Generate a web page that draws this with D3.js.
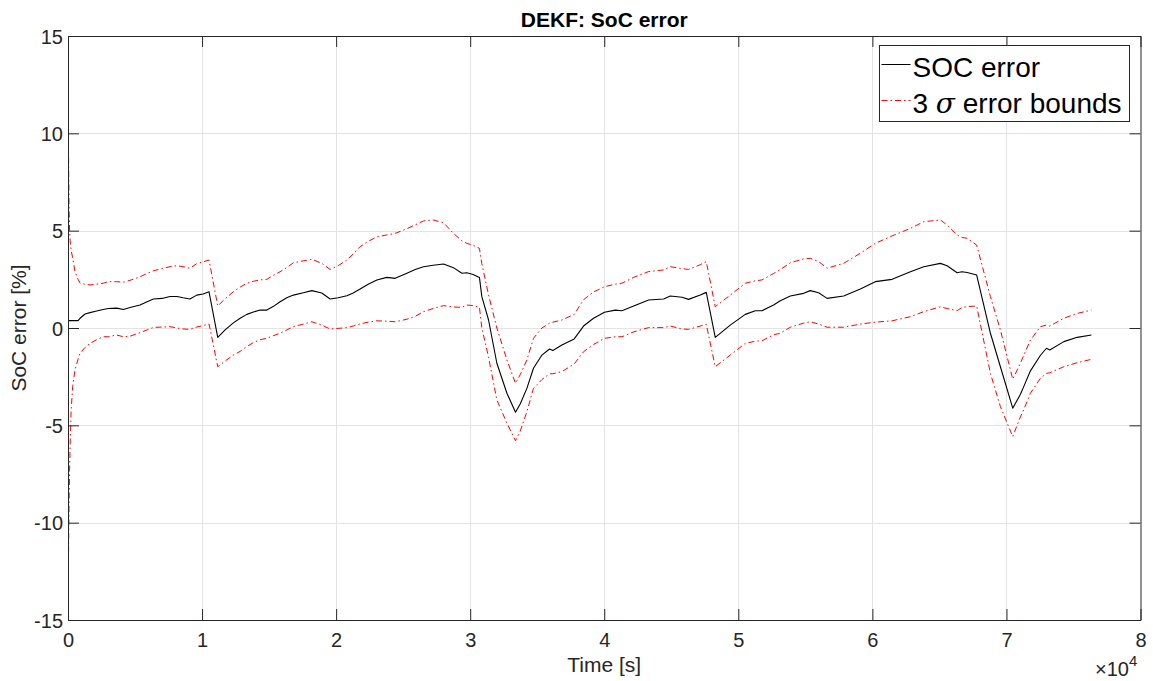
<!DOCTYPE html>
<html>
<head>
<meta charset="utf-8">
<script src="https://cdn.jsdelivr.net/npm/d3@7"></script>
<style>
  body { margin: 0; background: #fff; }
  svg { display: block; font-family: "Liberation Sans", Arial, Helvetica, sans-serif; }
</style>
</head>
<body>
<div id="chart"></div>
<script>
// time [s]
var time = [0, 40, 80, 120, 160, 230, 350, 520, 750, 900, 1270, 1640, 2140, 2630, 3000, 3630,
  4130, 4630, 5370, 5900, 6370, 7015, 7610, 8130, 8580, 9100, 9600, 10075, 10520, 11170,
  11720, 12310, 12840, 13340, 13830, 14330, 14830, 15300, 15820, 16320, 16810, 17560, 18190,
  18930, 19550, 20150, 20800, 21270, 21790, 22390, 23040, 23780, 24400, 25280, 25900, 26520,
  27240, 28010, 28750, 29380, 29750, 30220, 30690, 30870, 31370, 31990, 32740, 33380, 33730,
  34230, 34720, 35350, 35920, 36170, 36840, 37760, 38455, 39200, 40020, 40820, 41320, 42190,
  43310, 44430, 44925, 45800, 46290, 47160, 47610, 48280, 49400, 50520, 51270, 51770, 52630,
  53130, 53880, 54870, 55370, 55990, 56620, 57860, 59100, 60220, 61470, 62840, 63830, 65075,
  65575, 66320, 66690, 67070, 67780, 68806, 69550, 70470, 71045, 71290, 71790, 72540, 72985,
  73230, 74280, 75280, 76340];

// SOC error [%]
var socError = [0.38, 0.38, 0.38, 0.38, 0.38, 0.38, 0.38, 0.38, 0.38, 0.5, 0.72, 0.79, 0.87, 0.95, 1.0, 1.02,
  0.95, 1.05, 1.18, 1.35, 1.49, 1.52, 1.62, 1.62, 1.55, 1.49, 1.69, 1.75, 1.86, -0.48,
  -0.1, 0.25, 0.5, 0.7, 0.82, 0.92, 0.92, 1.1, 1.35, 1.55, 1.69, 1.81, 1.92,
  1.8, 1.49, 1.55, 1.66, 1.8, 2.0, 2.25, 2.47, 2.6, 2.55, 2.81, 3.0, 3.15,
  3.22, 3.29, 3.1, 2.81, 2.84, 2.75, 2.6, 1.61, 0.41, -1.81, -3.35, -4.33, -3.9,
  -3.1, -2.07, -1.39, -1.08, -1.16, -0.87, -0.56, 0.1, 0.5, 0.81, 0.92, 0.89, 1.13,
  1.44, 1.49, 1.64, 1.58, 1.47, 1.69, 1.83, -0.48, 0.15, 0.7, 0.89, 0.89, 1.18,
  1.4, 1.64, 1.78, 1.92, 1.81, 1.52, 1.64, 2.0, 2.38, 2.5, 2.89, 3.15, 3.32,
  3.2, 2.84, 2.89, 2.85, 2.72, -0.27, -1.99, -4.12, -3.4, -3.01, -2.2, -1.4, -1.04,
  -1.13, -0.7, -0.48, -0.36];

// 3 sigma upper bound [%]
var upperBound = [15, 9, 6.2, 5.0, 4.5, 4.0, 3.6, 2.9, 2.5, 2.3, 2.25, 2.21, 2.25, 2.3, 2.38, 2.38,
  2.35, 2.45, 2.63, 2.8, 2.94, 3.05, 3.15, 3.2, 3.15, 3.07, 3.3, 3.4, 3.49, 1.13,
  1.5, 1.85, 2.1, 2.3, 2.4, 2.47, 2.5, 2.7, 2.89, 3.1, 3.35, 3.45, 3.53,
  3.32, 3.01, 3.2, 3.49, 3.8, 4.18, 4.45, 4.68, 4.78, 4.86, 5.1, 5.3, 5.5,
  5.55, 5.41, 4.86, 4.48, 4.35, 4.25, 4.09, 3.3, 1.7, 0.0, -1.64, -2.84, -2.4,
  -1.64, -0.53, 0.0, 0.25, 0.3, 0.41, 0.7, 1.45, 1.85, 2.12, 2.25, 2.3, 2.6,
  2.9, 2.98, 3.15, 3.05, 3.01, 3.25, 3.41, 1.09, 1.69, 2.3, 2.42, 2.47, 2.8,
  3.0, 3.35, 3.55, 3.58, 3.41, 3.07, 3.32, 3.84, 4.35, 4.73, 5.12, 5.46, 5.55,
  5.29, 4.78, 4.65, 4.61, 4.26, 1.61, -0.1, -2.63, -1.81, -1.4, -0.62, 0.07, 0.15,
  0.1, 0.5, 0.75, 0.92];

// 3 sigma lower bound [%]
var lowerBound = [-15, -11.5, -9.0, -7.3, -6.0, -4.3, -3.0, -2.16, -1.6, -1.3, -1.0, -0.79, -0.6, -0.45, -0.45, -0.36,
  -0.45, -0.42, -0.24, -0.1, 0.03, 0.05, 0.07, 0.0, -0.05, -0.07, 0.05, 0.12, 0.21, -1.99,
  -1.7, -1.4, -1.2, -0.95, -0.75, -0.6, -0.53, -0.4, -0.27, -0.1, 0.07, 0.2, 0.32,
  0.15, -0.05, -0.02, 0.02, 0.1, 0.21, 0.3, 0.37, 0.35, 0.32, 0.45, 0.6, 0.84,
  1.0, 1.15, 1.08, 1.06, 1.18, 1.15, 1.06, 0.0, -1.5, -3.7, -4.89, -5.79, -5.3,
  -4.3, -3.1, -2.65, -2.35, -2.35, -2.24, -1.85, -1.22, -0.85, -0.53, -0.45, -0.45, -0.2,
  0.02, 0.02, 0.1, -0.05, -0.07, 0.1, 0.19, -1.99, -1.39, -0.79, -0.68, -0.65, -0.35,
  -0.27, 0.04, 0.25, 0.32, 0.2, 0.04, 0.04, 0.2, 0.3, 0.37, 0.58, 0.84, 1.09,
  1.0, 0.89, 1.06, 1.1, 1.13, -2.33, -4.04, -5.58, -4.56, -4.2, -3.35, -2.58, -2.33,
  -2.3, -1.99, -1.78, -1.61];

var xTicks = [0, 1, 2, 3, 4, 5, 6, 7, 8];          // x 10^4 s
var yTicks = [-15, -10, -5, 0, 5, 10, 15];

var width = 1153, height = 681;
var margin = {top: 36, right: 12, bottom: 61, left: 68};
var axisColor = "#262626";

var svg = d3.select("#chart").append("svg")
  .attr("width", width)
  .attr("height", height);

var x = d3.scaleLinear().domain([0, 80000]).range([margin.left, width - margin.right - 0.5]);
var y = d3.scaleLinear().domain([-15, 15]).range([height - margin.bottom, margin.top]);

svg.append("clipPath").attr("id", "plotclip")
  .append("rect")
  .attr("x", x(0)).attr("y", y(15))
  .attr("width", x(80000) - x(0)).attr("height", y(-15) - y(15));

// grid
var grid = svg.append("g").attr("class", "grid")
  .attr("stroke", "#e3e3e3").attr("stroke-width", 1);
grid.selectAll("line.gx").data(xTicks.slice(1, -1)).enter().append("line")
  .attr("x1", d => Math.round(x(d * 1e4)) + 0.5).attr("x2", d => Math.round(x(d * 1e4)) + 0.5)
  .attr("y1", y(15)).attr("y2", y(-15));
grid.selectAll("line.gy").data(yTicks.slice(1, -1)).enter().append("line")
  .attr("y1", d => Math.round(y(d)) + 0.5).attr("y2", d => Math.round(y(d)) + 0.5)
  .attr("x1", x(0)).attr("x2", x(80000));

// lines
var lineGen = function (vals) {
  return d3.line()
    .x((d, i) => x(time[i]))
    .y(d => y(d))(vals);
};

var plot = svg.append("g").attr("clip-path", "url(#plotclip)");

plot.append("path")
  .attr("d", lineGen(upperBound))
  .attr("fill", "none").attr("stroke", "#ff0000").attr("stroke-width", 1)
  .attr("stroke-dasharray", "6,3,1.5,3");
plot.append("path")
  .attr("d", lineGen(lowerBound))
  .attr("fill", "none").attr("stroke", "#ff0000").attr("stroke-width", 1)
  .attr("stroke-dasharray", "6,3,1.5,3");
plot.append("path")
  .attr("d", lineGen(socError))
  .attr("fill", "none").attr("stroke", "#000").attr("stroke-width", 1.1)
  .attr("stroke-linejoin", "round");

// axes (MATLAB style: box with inward ticks on all sides)
var tickLen = 11;
var tickFont = "20px";
var xAxisB = d3.axisBottom(x).tickValues(xTicks.map(d => d * 1e4))
  .tickFormat(d => String(d / 1e4)).tickSizeInner(-tickLen).tickSizeOuter(0);
var xAxisT = d3.axisTop(x).tickValues(xTicks.map(d => d * 1e4))
  .tickFormat("").tickSizeInner(-tickLen).tickSizeOuter(0);
var yAxisL = d3.axisLeft(y).tickValues(yTicks)
  .tickFormat(d => String(d)).tickSizeInner(-tickLen).tickSizeOuter(0);
var yAxisR = d3.axisRight(y).tickValues(yTicks)
  .tickFormat("").tickSizeInner(-tickLen).tickSizeOuter(0);

function styleAxis(g) {
  g.selectAll("path").attr("stroke", axisColor).attr("stroke-width", 1);
  g.selectAll("line").attr("stroke", axisColor).attr("stroke-width", 1);
  g.selectAll("text").attr("fill", axisColor)
    .style("font-size", tickFont).style("font-family", "Liberation Sans, Arial, sans-serif");
}

svg.append("g").attr("transform", "translate(0," + y(-15) + ")").call(xAxisB).call(styleAxis)
  .selectAll("text").attr("dy", null).attr("y", 27);
svg.append("g").attr("transform", "translate(0," + y(15) + ")").call(xAxisT).call(styleAxis);
svg.append("g").attr("transform", "translate(" + x(0) + ",0)").call(yAxisL).call(styleAxis)
  .selectAll("text").attr("x", -5).attr("dy", "0.35em");
svg.append("g").attr("transform", "translate(" + x(80000) + ",0)").call(yAxisR).call(styleAxis);

// title & labels
svg.append("text")
  .attr("x", (x(0) + x(80000)) / 2).attr("y", 27)
  .attr("text-anchor", "middle")
  .style("font-size", "21px").style("font-weight", "bold").attr("fill", "#000")
  .text("DEKF: SoC error");

svg.append("text")
  .attr("x", (x(0) + x(80000)) / 2).attr("y", 672)
  .attr("text-anchor", "middle")
  .style("font-size", "21px").attr("fill", axisColor)
  .text("Time [s]");

svg.append("text")
  .attr("transform", "translate(26," + y(0) + ") rotate(-90)")
  .attr("text-anchor", "middle")
  .style("font-size", "21px").attr("fill", axisColor)
  .text("SoC error [%]");

var expo = svg.append("text")
  .attr("x", 1095).attr("y", 676)
  .style("font-size", tickFont).attr("fill", axisColor);
expo.append("tspan").text("\u00d710");
expo.append("tspan").attr("dy", -10).style("font-size", "15px").text("4");

// legend
var legend = svg.append("g").attr("transform", "translate(879.5,45.5)");
legend.append("rect")
  .attr("width", 250).attr("height", 76)
  .attr("fill", "#fff").attr("stroke", axisColor).attr("stroke-width", 1);

var legendItems = [
  {label: "SOC error", color: "#000", dash: null},
  {label: "3 \u03c3 error bounds", color: "#ff0000", dash: "6,3,1.5,3"}
];
legendItems.forEach(function (d, i) {
  var cy = 19 + i * 36;
  legend.append("line")
    .attr("x1", 2).attr("x2", 31).attr("y1", cy).attr("y2", cy)
    .attr("stroke", d.color).attr("stroke-width", 1)
    .attr("stroke-dasharray", d.dash);
  var t = legend.append("text")
    .attr("x", 33).attr("y", cy + 12)
    .style("font-size", "28px").attr("fill", "#000");
  if (i === 0) {
    t.text(d.label);
  } else {
    t.append("tspan").text("3 ");
    t.append("tspan").style("font-family", "DejaVu Serif, serif").style("font-style", "italic").text("\u03c3");
    t.append("tspan").text(" error bounds");
  }
});
</script>
</body>
</html>
